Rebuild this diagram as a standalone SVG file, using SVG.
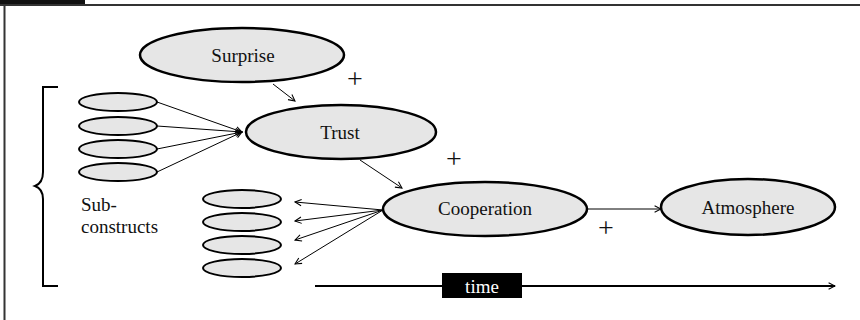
<svg xmlns="http://www.w3.org/2000/svg" width="860" height="320" viewBox="0 0 860 320">
<defs>
<style>
.node ellipse{fill:#e6e6e6;stroke:#000;stroke-width:2.5}
.sub ellipse{fill:#e6e6e6;stroke:#000;stroke-width:2}
text{font-family:"Liberation Serif","Times New Roman",serif;font-size:19px;fill:#111}
.lbl{text-anchor:middle;dominant-baseline:central}
.plus{font-family:"Liberation Serif","Times New Roman",serif;font-size:28px;text-anchor:middle;dominant-baseline:central}
.conn line{stroke:#000;stroke-width:1}
</style>
<marker id="arr" viewBox="0 0 10 10" refX="9" refY="5" markerWidth="8" markerHeight="8" markerUnits="userSpaceOnUse" orient="auto">
<path d="M1,1 L9,5 L1,9" fill="none" stroke="#000" stroke-width="1.3"/>
</marker>
</defs>
<rect width="860" height="320" fill="#fff"/>
<g id="frame">
<rect x="0" y="0" width="85" height="6" fill="#111"/>
<line x1="0" y1="5" x2="860" y2="5" stroke="#333" stroke-width="2"/>
<line x1="4.5" y1="5" x2="4.5" y2="320" stroke="#333" stroke-width="2"/>
</g>
<g id="bracket">
<path d="M58,87 H43 V172 Q43,183 35,186 Q43,189 43,199 V286 H58" fill="none" stroke="#000" stroke-width="2"/>
<text x="81" y="204" dominant-baseline="central">Sub-</text>
<text x="81" y="226" dominant-baseline="central">constructs</text>
</g>
<g id="surprise" class="node"><ellipse cx="242" cy="55" rx="102" ry="27"/><text x="243" y="55" class="lbl">Surprise</text></g>
<g id="trust" class="node"><ellipse cx="341" cy="132" rx="95" ry="27"/><text x="340" y="132" class="lbl">Trust</text></g>
<g id="cooperation" class="node"><ellipse cx="485" cy="209" rx="102" ry="27"/><text x="485" y="208" class="lbl">Cooperation</text></g>
<g id="atmosphere" class="node"><ellipse cx="748" cy="207" rx="87" ry="28"/><text x="748" y="207" class="lbl">Atmosphere</text></g>
<g id="sub-left" class="sub">
<ellipse cx="118" cy="102" rx="39" ry="9"/>
<ellipse cx="118" cy="126" rx="39" ry="9"/>
<ellipse cx="118" cy="149" rx="39" ry="9"/>
<ellipse cx="118" cy="172" rx="39" ry="9"/>
</g>
<g id="sub-right" class="sub">
<ellipse cx="242" cy="199" rx="39" ry="9"/>
<ellipse cx="242" cy="222" rx="39" ry="9"/>
<ellipse cx="242" cy="245" rx="39" ry="9"/>
<ellipse cx="242" cy="268" rx="39" ry="9"/>
</g>
<g id="connectors" class="conn">
<line x1="273" y1="84" x2="295" y2="101" marker-end="url(#arr)"/>
<line x1="360" y1="160" x2="402" y2="188" marker-end="url(#arr)"/>
<line x1="157" y1="102" x2="242" y2="132" marker-end="url(#arr)"/>
<line x1="157" y1="126" x2="242" y2="132" marker-end="url(#arr)"/>
<line x1="157" y1="149" x2="242" y2="132" marker-end="url(#arr)"/>
<line x1="157" y1="172" x2="242" y2="132" marker-end="url(#arr)"/>
<line x1="383" y1="210" x2="295" y2="202" marker-end="url(#arr)"/>
<line x1="383" y1="210" x2="295" y2="221" marker-end="url(#arr)"/>
<line x1="383" y1="210" x2="295" y2="240" marker-end="url(#arr)"/>
<line x1="383" y1="210" x2="295" y2="264" marker-end="url(#arr)"/>
<line x1="587" y1="209" x2="661" y2="209" marker-end="url(#arr)"/>
</g>
<g id="signs">
<text x="355" y="78" class="plus">+</text>
<text x="454" y="158" class="plus">+</text>
<text x="606" y="227" class="plus">+</text>
</g>
<g id="timeline">
<line x1="315" y1="286" x2="835" y2="286" stroke="#000" stroke-width="2" marker-end="url(#arr)"/>
<rect x="442" y="273" width="80" height="25" fill="#000"/>
<text x="482" y="286" class="lbl" style="fill:#fff">time</text>
</g>
</svg>
